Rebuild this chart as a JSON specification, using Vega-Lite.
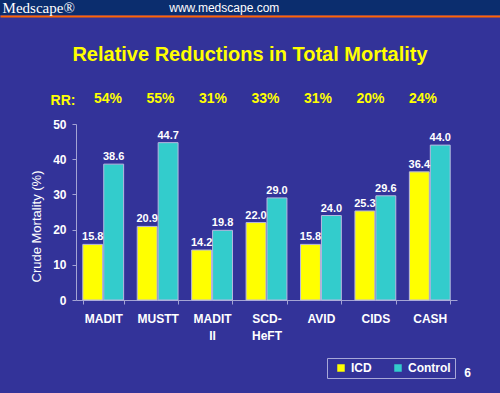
{
  "$schema": "https://vega.github.io/schema/vega-lite/v6.json",
  "background": "#333399",
  "padding": 0,
  "spacing": 0,
  "bounds": "flush",
  "config": {
    "view": {"stroke": null},
    "font": "Liberation Sans"
  },
  "vconcat": [
    {
      "width": 500,
      "height": 15,
      "view": {"fill": "#0b2d6e", "stroke": null},
      "data": {"values": [{"site": "Medscape®"}, {"site": "www.medscape.com"}]},
      "encoding": {
        "x": {
          "field": "site",
          "type": "nominal",
          "scale": {"type": "point", "domain": ["Medscape®", "www.medscape.com"], "range": [0, 500], "padding": 1.6368, "align": 0.0078},
          "axis": {"orient": "bottom", "offset": 1, "domainColor": "#ff6600", "domainWidth": 2, "ticks": false, "labels": false, "title": null, "grid": false}
        }
      },
      "layer": [
        {
          "transform": [{"filter": "datum.site == 'Medscape®'"}],
          "mark": {"type": "text", "align": "left", "baseline": "middle", "font": "Liberation Serif", "fontSize": 15, "color": "white"},
          "encoding": {"text": {"field": "site"}}
        },
        {
          "transform": [{"filter": "datum.site != 'Medscape®'"}],
          "mark": {"type": "text", "align": "left", "baseline": "middle", "font": "Liberation Sans", "fontSize": 12, "color": "white"},
          "encoding": {"text": {"field": "site"}}
        }
      ]
    },
    {
      "width": 500,
      "height": 378,
      "title": {
        "text": "Relative Reductions in Total Mortality",
        "color": "#ffff00",
        "font": "Liberation Sans",
        "fontSize": 20,
        "fontWeight": "bold",
        "anchor": "middle",
        "frame": "group",
        "baseline": "alphabetic",
        "offset": 0,
        "dy": 66
      },
      "layer": [
        {
          "data": {"values": [
            {"trial": "MADIT", "group": "ICD", "value": 15.8},
            {"trial": "MADIT", "group": "Control", "value": 38.6},
            {"trial": "MUSTT", "group": "ICD", "value": 20.9},
            {"trial": "MUSTT", "group": "Control", "value": 44.7},
            {"trial": "MADIT II", "group": "ICD", "value": 14.2},
            {"trial": "MADIT II", "group": "Control", "value": 19.8},
            {"trial": "SCD-HeFT", "group": "ICD", "value": 22.0},
            {"trial": "SCD-HeFT", "group": "Control", "value": 29.0},
            {"trial": "AVID", "group": "ICD", "value": 15.8},
            {"trial": "AVID", "group": "Control", "value": 24.0},
            {"trial": "CIDS", "group": "ICD", "value": 25.3},
            {"trial": "CIDS", "group": "Control", "value": 29.6},
            {"trial": "CASH", "group": "ICD", "value": 36.4},
            {"trial": "CASH", "group": "Control", "value": 44.0}
          ]},
          "encoding": {
            "x": {
              "field": "trial",
              "type": "nominal",
              "sort": null,
              "scale": {"range": [76, 457], "paddingInner": 0.25, "paddingOuter": 0.125},
              "axis": {
                "orient": "bottom",
                "offset": -93,
                "tickBand": "extent",
                "domainColor": "#a4a4d4",
                "tickColor": "#a4a4d4",
                "tickSize": 4,
                "labelColor": "white",
                "labelFont": "Liberation Sans",
                "labelFontWeight": "bold",
                "labelFontSize": 12,
                "labelPadding": 9,
                "labelAngle": 0,
                "labelLineHeight": 17,
                "labelExpr": "datum.label == 'MADIT II' ? ['MADIT', 'II'] : datum.label == 'SCD-HeFT' ? ['SCD-', 'HeFT'] : datum.label",
                "grid": false,
                "title": "6",
                "titleX": 467,
                "titleY": 72,
                "titleColor": "white",
                "titleFont": "Liberation Sans",
                "titleFontSize": 12,
                "titleFontWeight": "bold",
                "titleAlign": "center",
                "titleBaseline": "middle"
              }
            },
            "xOffset": {"field": "group", "type": "nominal", "sort": ["ICD", "Control"], "scale": {"paddingInner": 0.05}},
            "y": {
              "field": "value",
              "type": "quantitative",
              "scale": {"domain": [0, 50], "range": [285, 109], "nice": false},
              "axis": {
                "orient": "left",
                "offset": -76,
                "values": [0, 10, 20, 30, 40, 50],
                "domainColor": "#a4a4d4",
                "tickColor": "#a4a4d4",
                "tickSize": 4,
                "labelColor": "white",
                "labelFont": "Liberation Sans",
                "labelFontWeight": "bold",
                "labelFontSize": 12,
                "labelPadding": 6,
                "grid": false,
                "title": "Crude Mortality (%)",
                "titleColor": "white",
                "titleFont": "Liberation Sans",
                "titleFontSize": 13,
                "titleFontWeight": "normal",
                "titleAngle": -90,
                "titleX": -40,
                "titleY": 211,
                "titleAlign": "center",
                "titleBaseline": "middle"
              }
            }
          },
          "layer": [
            {
              "mark": {"type": "bar", "stroke": "#b8b8e0", "strokeWidth": 1},
              "encoding": {
                "color": {
                  "field": "group",
                  "type": "nominal",
                  "scale": {"domain": ["ICD", "Control"], "range": ["#ffff00", "#33cccc"]},
                  "legend": {
                    "orient": "none",
                    "legendX": 327,
                    "legendY": 358,
                    "direction": "horizontal",
                    "title": null,
                    "gridAlign": "none",
                    "symbolType": "square",
                    "symbolSize": 56,
                    "symbolStrokeWidth": 0,
                    "symbolOpacity": 1,
                    "labelColor": "white",
                    "labelFont": "Liberation Sans",
                    "labelFontSize": 12,
                    "labelFontWeight": "bold",
                    "labelOffset": 4,
                    "columnPadding": 16,
                    "padding": 4,
                    "symbolOffset": 4,
                    "strokeColor": "#a8a8d8"
                  }
                }
              }
            },
            {
              "mark": {"type": "text", "color": "white", "font": "Liberation Sans", "fontWeight": "bold", "fontSize": 11, "baseline": "alphabetic", "dy": -4},
              "encoding": {"text": {"field": "value", "type": "quantitative", "format": ".1f"}}
            }
          ]
        },
        {
          "data": {"values": [
            {"trial": "MADIT", "rr": "54%"},
            {"trial": "MUSTT", "rr": "55%"},
            {"trial": "MADIT II", "rr": "31%"},
            {"trial": "SCD-HeFT", "rr": "33%"},
            {"trial": "AVID", "rr": "31%"},
            {"trial": "CIDS", "rr": "20%"},
            {"trial": "CASH", "rr": "24%"}
          ]},
          "mark": {"type": "text", "color": "#ffff00", "font": "Liberation Sans", "fontWeight": "bold", "fontSize": 14, "baseline": "middle"},
          "encoding": {
            "x": {
              "field": "trial",
              "type": "nominal",
              "sort": null,
              "scale": {"range": [81.75, 449.25], "paddingInner": 0, "paddingOuter": 0},
              "axis": {
                "orient": "top",
                "labels": false,
                "ticks": false,
                "domain": false,
                "grid": false,
                "title": "RR:",
                "titleX": 62.5,
                "titleY": 85,
                "titleColor": "#ffff00",
                "titleFont": "Liberation Sans",
                "titleFontSize": 14,
                "titleFontWeight": "bold",
                "titleAlign": "center",
                "titleBaseline": "middle"
              }
            },
            "y": {"datum": 57},
            "text": {"field": "rr"}
          }
        }
      ],
      "resolve": {"scale": {"x": "independent"}, "axis": {"x": "independent"}}
    }
  ]
}
